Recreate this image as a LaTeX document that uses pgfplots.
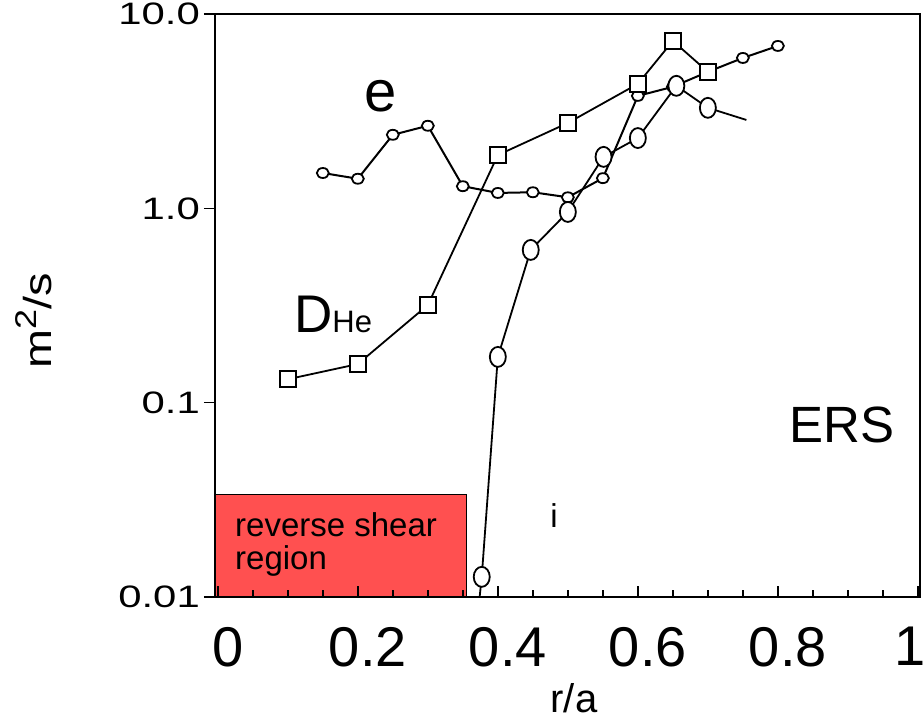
\documentclass[border=0pt]{standalone}
\usepackage{fontspec}
\setmainfont{Liberation Sans}
\usepackage{pgfplots}
\pgfplotsset{compat=1.18}
\definecolor{rsred}{RGB}{255,80,80}
\newcommand{\fs}[1]{\fontsize{#1}{#1}\selectfont}
\begin{document}
\begin{tikzpicture}
\begin{axis}[
  at={(0,0)}, anchor=south west,
  scale only axis, width=705pt, height=583pt,
  ymode=log, ymin=0.01, ymax=10,
  xmin=-0.004, xmax=1.003,
  axis on top,
  axis line style={line width=1.9pt},
  xtick={0,0.2,0.4,0.6,0.8,1},
  xticklabels={0,0.2,0.4,0.6,0.8,\hspace*{-36pt}1},
  minor x tick num=3,
  ytick={0.01,0.1,1,10},
  yticklabels={\scalebox{1.35}[1]{0.01},\scalebox{1.35}[1]{0.1},\scalebox{1.35}[1]{1.0},\scalebox{1.35}[1]{10.0}},
  yminorticks=false,
  xtick pos=bottom, ytick pos=left,
  tick align=inside,
  major tick length=11pt, minor tick length=7pt,
  tick style={line width=1.6pt, black},
  ytick style={xshift=-11pt},
  xticklabel style={font=\fs{56}, inner sep=0pt, yshift=-30pt, xshift=10pt},
  yticklabel style={font=\fs{31}, inner sep=0pt, xshift=-15pt},
]
\addplot[draw=black, line width=1.3pt, fill=rsred] coordinates {(-0.004,0.01) (0.355,0.01) (0.355,0.0336) (-0.004,0.0336)} -- cycle;
% electrons
\addplot[black, line width=2pt, mark=*, mark size=5pt, mark options={fill=white, xscale=1.2, line width=1.8pt}] coordinates {
(0.15,1.52)(0.2,1.42)(0.25,2.39)(0.3,2.66)(0.35,1.30)(0.4,1.20)(0.45,1.21)(0.5,1.14)(0.55,1.43)(0.6,3.79)(0.65,4.22)(0.7,5.04)(0.75,5.94)(0.8,6.85)};
% ions
\addplot[black, line width=1.8pt, mark=*, mark size=8pt, mark indices={1,2,3,4,5,6,7,8}, mark options={fill=white, yscale=1.25, line width=1.8pt}] coordinates {
(0.372,0.0085)(0.377,0.0127)(0.4,0.172)(0.447,0.611)(0.5,0.958)(0.551,1.84)(0.6,2.30)(0.655,4.27)(0.7,3.29)(0.755,2.85)};
% D_He
\addplot[black, line width=1.8pt, mark=square*, mark size=8pt, mark options={fill=white, line width=2pt}] coordinates {
(0.1,0.132)(0.2,0.158)(0.3,0.318)(0.4,1.88)(0.5,2.75)(0.6,4.37)(0.65,7.27)(0.7,5.04)};
\end{axis}
\node[anchor=base west, inner sep=0pt, font=\fs{58}] at (149pt,485pt) {e};
\node[anchor=base west, inner sep=0pt] at (79pt,264pt) {\fs{53}D\fs{31}He};
\node[anchor=base west, inner sep=0pt, font=\fs{51}] at (574pt,154pt) {ERS};
\node[anchor=base, inner sep=0pt, font=\fs{33}] at (339pt,69pt) {i};
\node[anchor=base west, inner sep=0pt, font=\fs{33}] at (20pt,60pt) {reverse shear};
\node[anchor=base west, inner sep=0pt, font=\fs{33}] at (20pt,27pt) {region};
\node[anchor=base, inner sep=0pt, font=\fs{40}] at (359pt,-115pt) {r/a};
\node[anchor=base, inner sep=0pt, rotate=90, font=\fs{39}] at (-163pt,276pt) {\scalebox{1.2}[1]{m\raisebox{15pt}{\fs{30}2}/s}};
\pgfresetboundingbox
\path (-215pt,-123pt) rectangle (709pt,597pt);
\end{tikzpicture}
\end{document}
